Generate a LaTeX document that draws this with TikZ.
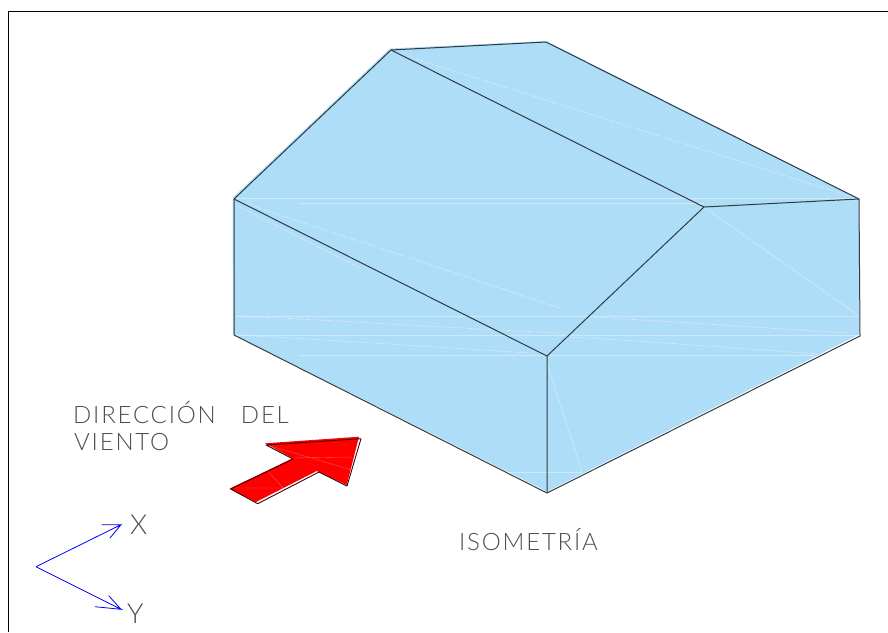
\documentclass[tikz,border=0pt]{standalone}
\usepackage{fontspec}
\setmainfont{Lato}[UprightFont=* Light,LetterSpace=7.5]
\newfontfamily\axisfont{Lato}[UprightFont=* Light]
\definecolor{roof}{HTML}{AEDDF7}
\definecolor{edge}{HTML}{2F3A44}
\definecolor{label}{HTML}{4A4F55}
\tikzset{
  faint/.style={draw=white,opacity=.4,line width=.6pt},
  faintd/.style={faint,dash pattern=on 8pt off 2pt},
  edgeline/.style={draw=edge,line width=1pt,line join=round},
  axisline/.style={draw=blue,line width=.8pt},
  caption/.style={text=label,font=\fontsize{24}{24}\selectfont,inner sep=0pt,anchor=base west},
  axislabel/.style={text=label,font=\axisfont\fontsize{27.5}{27.5}\selectfont,inner sep=0pt,anchor=base west}
}
\begin{document}
\begin{tikzpicture}[x=1pt,y=-1pt]
\useasboundingbox (0,0) rectangle (888,632);
\draw[black,line width=1pt] (8.5,632) -- (8.5,11.5) -- (888,11.5);
% fill
\fill[roof] (232.5,198) -- (390,48.5) -- (546,41) -- (859,198.5) -- (859,334.5) -- (547,491.5) -- (233,334) -- cycle;
% faint triangulation lines
\draw[faint,line width=1pt] (234,198) -- (859,198);
\draw[faint] (300,203) -- (704,203);
\draw[faint] (236,316) -- (858,316);
\draw[faint,line width=.8pt] (236,335) -- (858,335);
\draw[faint,line width=1pt] (300,355) -- (815,355);
\draw[faint] (495,472) -- (582,472);
\draw[faintd] (236,316) .. controls (350,321) and (450,328) .. (560,333);
\draw[faintd] (236,335) .. controls (350,341) and (450,348) .. (530,353);
\draw[faintd] (590,317) .. controls (680,322) and (780,329) .. (850,333);
\draw[faintd] (570,337) .. controls (660,342) and (760,350) .. (820,354);
\draw[faintd] (235,200) -- (560,308);
\draw[faintd] (397,53) -- (859,199);
\draw[faintd] (236,205) -- (360,268);
\draw[faint] (705,208) -- (858,315);
\draw[faint] (547,363) -- (582,472);
\draw[faint] (547,356) -- (704,207);
% edges
\coordinate (A) at (391,50);
\coordinate (B) at (546,42);
\coordinate (C) at (859,199);
\coordinate (D) at (704,207);
\coordinate (E) at (234,199);
\coordinate (F) at (547,356);
\coordinate (G) at (234,335);
\coordinate (H) at (547,493);
\coordinate (I) at (860,336);
\draw[edgeline] (E) -- (A) -- (B) -- (C) -- (I) -- (H) -- (G) -- cycle;
\draw[edgeline] (A) -- (D) -- (C);
\draw[edgeline] (E) -- (F) -- (H);
\draw[edgeline] (F) -- (D);
% wind arrow
\fill[red] (229.5,488.7) -- (292.7,458.3) -- (265,443.3) -- (359,436.7) -- (346.7,485) -- (316.7,471) -- (256,502) -- cycle;
\draw[white,opacity=.3,line width=.4pt] (267,445) -- (352,470) (293,458) -- (352,457) (232,488) -- (282,488) (267,470) -- (283,488);
\draw[black!75!red,line width=.9pt,line join=round] (230.7,489) -- (293,459) -- (266,445) -- (361,438.7) -- (347,486) -- (319,472) -- (257.7,503.7) -- cycle;
% axes
\coordinate (O) at (36,566.7);
\coordinate (Xt) at (121,524.7);
\coordinate (Yt) at (121,609.3);
\draw[axisline] (O) -- (Xt) -- (101.7,524.7) (Xt) -- (110,538);
\draw[axisline] (O) -- (Yt) -- (95,606.7) (Yt) -- (108.7,595.7);
% labels
\node[caption] (dir) at (73,423) {DIRECCIÓN\hspace{1.05em}DEL};
\node[caption] (vie) at (74,450) {VIENTO};
\node[caption] (iso) at (459,550) {ISOMETRÍA};
\node[axislabel] (xl) at (130,534) {X};
\node[axislabel] (yl) at (127,623) {Y};
\end{tikzpicture}
\end{document}
